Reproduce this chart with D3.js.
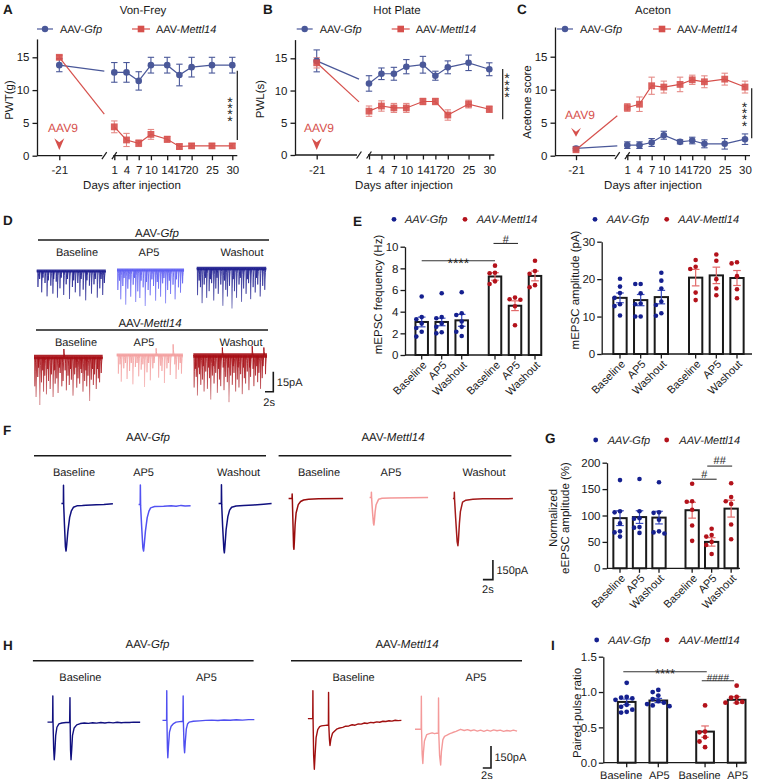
<!DOCTYPE html>
<html><head><meta charset="utf-8">
<script src="https://cdn.jsdelivr.net/npm/d3@7"></script>
<style>
body{margin:0;background:#fff}
svg{display:block}
</style></head><body>
<svg id="fig" width="760" height="781"></svg>
<script>
// ---------------- DATA ----------------
const days = [-21,1,4,7,10,14,17,20,25,30];
const vfGfp    = [13.8,12.7,12.7,11.4,13.8,13.8,12.3,13.5,13.8,13.8];
const vfGfpErr = [1.0,1.5,1.5,1.4,1.2,1.2,1.65,1.5,1.2,1.2];
const vfMet    = [15.0,4.4,2.4,1.9,3.25,2.5,1.4,1.5,1.5,1.5];
const vfMetErr = [0.3,0.9,1.0,0.5,0.75,0.45,0.4,0.35,0.35,0.35];
const hpGfp    = [14.6,11.1,12.6,12.6,13.7,14.0,12.3,13.6,14.3,13.3];
const hpGfpErr = [1.7,1.2,0.9,1.0,1.1,1.3,0.7,1.0,1.2,1.0];
const hpMet    = [14.3,6.8,7.6,7.3,7.3,8.3,8.3,6.2,7.9,7.1];
const hpMetErr = [0.8,0.8,0.8,0.7,0.7,0.5,0.5,0.8,0.6,0.5];
const acGfp    = [1.1,1.6,1.6,2.0,3.1,2.1,2.3,1.8,1.8,2.5];
const acGfpErr = [0.3,0.5,0.5,0.6,0.6,0.3,0.5,0.6,0.8,0.8];
const acMet    = [0.9,7.3,7.8,10.6,10.4,10.8,11.5,11.2,11.6,10.4];
const acMetErr = [0.2,0.6,1.1,1.3,0.9,1.1,0.7,0.9,0.9,0.9];
const lineYTicks = [0,5,10,15];

const conds3 = ['Baseline','AP5','Washout'];
const conds2 = ['Baseline','AP5'];

// E: mEPSC frequency (Hz)
const freqGfp = [3.05,3.05,3.2], freqGfpErr = [0.45,0.35,0.55];
const freqMet = [7.25,4.55,7.3], freqMetErr = [0.35,0.45,0.45];
const freqGfpPts = [[5.4,3.5,3.3,2.9,2.5,2.15,1.7],[5.7,3.5,3.4,2.9,2.6,2.1,2.0],[5.8,3.85,3.7,3.1,2.6,2.15,1.75]];
const freqMetPts = [[8.25,7.6,7.55,6.8,6.55],[5.3,5.15,5.1,4.5,2.75],[8.7,7.75,7.5,6.45,6.25]];
const freqTicks = [0,2,4,6,8,10];
// E: mEPSC amplitude (pA)
const ampGfp = [15.0,14.4,15.2], ampGfpErr = [1.3,1.5,1.8];
const ampMet = [20.4,21.0,20.3], ampMetErr = [2.2,2.2,2.0];
const ampGfpPts = [[20.1,18.0,16.3,15.0,13.3,12.8,10.3],[18.7,18.7,16.2,13.5,13.3,10.0,10.0],[21.7,19.6,17.5,14.0,13.1,10.9,10.2]];
const ampMetPts = [[25.1,23.3,22.7,16.4,14.4],[26.6,24.9,20.0,17.5,15.7],[24.5,24.2,20.8,17.3,14.9]];
const ampTicks = [0,10,20,30];
// G: normalized eEPSC amplitude (%)
const eGfp = [95,97,96], eGfpErr = [14,12,12];
const eMet = [110,50,113], eMetErr = [15,8,16];
const eGfpPts = [[167,108,106,85,70,68,60],[169,108,95,94,78,77,67],[163,106,105,92,70,68,66]];
const eMetPts = [[160,127,126,111,81,52],[75,63,60,50,44,27],[161,135,127,122,83,55]];
const eTicks = [0,50,100,150,200];
// I: paired-pulse ratio
const ppGfp = [0.86,0.88], ppGfpErr = [0.04,0.03];
const ppMet = [0.44,0.89], ppMetErr = [0.08,0.045];
const ppGfpPts = [[1.13,0.93,0.92,0.91,0.89,0.82,0.79,0.75,0.72,0.71],[1.03,1.00,0.95,0.90,0.87,0.85,0.83,0.81,0.80]];
const ppMetPts = [[0.81,0.44,0.43,0.36,0.30,0.22],[1.09,0.93,0.92,0.86,0.85,0.85]];
const ppTicks = [0,0.5,1.0,1.5];

// D: mEPSC traces, events [time (s), amplitude (pA, inward positive; negative = upward noise)]
const dGfpBase = [[0.3,12],[0.7,6],[1.2,16],[1.5,5],[2.0,9],[2.5,19],[2.8,7],[3.4,11],[3.9,17],[4.1,6],[4.7,8],[5.0,20],[5.6,13],[5.9,5],[6.5,18],[7.1,10],[7.4,6],[7.9,21],[8.6,12],[8.9,7],[9.3,16],[9.9,9],[10.4,19],[10.7,6],[11.2,14],[11.8,22],[12.1,7],[12.7,11],[13.2,17],[13.8,10],[14.1,6],[14.6,20],[15.2,13],[15.5,6],[15.9,18],[16.3,9]];
const dGfpAP5 = [[0.2,15],[0.6,8],[0.9,22],[1.4,12],[1.7,6],[2.1,26],[2.6,14],[2.9,7],[3.3,20],[3.9,11],[4.2,6],[4.5,24],[5.0,16],[5.5,21],[5.8,8],[6.3,13],[6.8,27],[7.1,9],[7.5,15],[8.0,19],[8.4,7],[8.8,12],[9.3,23],[9.7,9],[10.0,14],[10.5,20],[11.0,10],[11.3,6],[11.7,25],[12.2,15],[12.6,8],[12.9,18],[13.5,11],[14.0,22],[14.3,7],[14.8,13],[15.3,17],[15.8,10]];
const dGfpWash = [[0.2,20],[0.6,9],[0.9,14],[1.3,26],[1.8,12],[2.1,7],[2.4,22],[3.0,17],[3.3,8],[3.6,11],[4.1,24],[4.6,15],[4.9,7],[5.2,19],[5.8,12],[6.3,28],[6.7,9],[7.0,16],[7.4,21],[7.9,13],[8.5,30],[8.8,8],[9.1,17],[9.6,22],[10.2,12],[10.5,7],[10.8,25],[11.3,15],[11.9,19],[12.2,8],[12.5,11],[13.0,23],[13.6,14],[14.1,18],[14.4,7],[14.7,12],[15.3,21],[15.9,13],[16.4,16]];
const dMetBase = [[0.2,22],[0.5,30],[0.9,15],[1.1,8],[1.4,36],[1.8,19],[2.1,10],[2.3,26],[2.6,14],[3.0,28],[3.3,9],[3.5,18],[3.9,24],[4.2,13],[4.6,30],[4.9,10],[5.1,20],[5.5,16],[5.8,27],[6.1,8],[6.3,12],[6.7,22],[7.0,18],[7.2,-6],[7.5,10],[7.8,25],[8.2,14],[8.5,21],[8.8,9],[9.0,17],[9.4,29],[9.8,13],[10.1,8],[10.3,23],[10.6,16],[11.0,20],[11.3,9],[11.5,12],[11.8,26],[12.2,18],[12.5,10],[12.7,22],[13.0,14],[13.4,33],[13.8,17],[14.1,9],[14.3,21],[14.6,13],[15.0,24],[15.3,9],[15.5,16],[15.8,19],[16.2,12]];
const dMetAP5 = [[0.4,14],[0.8,7],[1.1,20],[1.7,10],[2.1,6],[2.5,18],[3.1,12],[3.5,6],[3.9,22],[4.5,9],[4.9,6],[5.3,16],[5.9,11],[6.3,7],[6.7,24],[7.3,13],[7.7,6],[8.1,19],[8.7,10],[9.0,6],[9.5,-5],[10.1,17],[10.6,8],[10.9,12],[11.5,21],[12.1,10],[12.5,6],[12.9,15],[13.6,-8],[14.0,7],[14.3,18],[14.9,11],[15.3,6],[15.6,14]];
const dMetWash = [[0.2,24],[0.5,10],[0.7,16],[1.0,30],[1.3,9],[1.5,14],[1.8,22],[2.2,18],[2.4,8],[2.6,27],[3.0,12],[3.4,25],[3.7,9],[3.9,17],[4.2,33],[4.6,15],[4.8,8],[5.0,21],[5.4,13],[5.8,28],[6.1,10],[6.3,18],[6.6,23],[7.0,-6],[7.2,9],[7.4,26],[7.8,16],[8.2,20],[8.4,9],[8.6,35],[9.0,15],[9.4,22],[9.6,8],[9.8,13],[10.2,27],[10.6,18],[10.8,9],[11.0,24],[11.4,14],[11.8,29],[12.1,9],[12.3,17],[12.6,21],[13.0,12],[13.4,26],[13.6,9],[13.8,16],[14.2,-7],[14.4,10],[14.6,23],[15.0,15],[15.3,8],[15.5,20],[15.8,13],[16.2,25],[16.6,17],[16.8,8],[17.0,-6],[17.4,14]];

// F: eEPSC traces [time (s), current (pA)]
const fGfpBase = [[0,0],[0.4,0],[0.42,140],[0.46,-10],[0.6,-150],[0.8,-330],[0.93,-363],[1.05,-320],[1.3,-210],[1.65,-105],[2.0,-55],[2.4,-28],[3.1,-17],[4.2,-15],[4.9,-12],[6,-10],[7,-8],[8.5,-6],[10.3,-2]];
const fGfpAP5 = [[0,0],[0.32,0],[0.35,150],[0.4,-10],[0.6,-160],[0.85,-330],[1.0,-355],[1.12,-310],[1.36,-205],[1.72,-100],[2.07,-50],[2.4,-25],[3.2,-15],[5,-12],[6.5,-8],[7.5,-12],[8.5,-6],[9.3,-10],[10.4,-8]];
const fGfpWash = [[0,0],[0.55,0],[0.57,145],[0.62,-10],[0.8,-170],[1.05,-350],[1.15,-377],[1.28,-320],[1.5,-200],[1.85,-100],[2.2,-50],[2.6,-28],[3.5,-18],[5,-15],[7,-10],[9,-5],[10.6,0]];
const fMetBase = [[0,0],[0.69,0],[0.71,36],[0.75,-5],[0.88,-200],[1.0,-370],[1.07,-388],[1.15,-330],[1.3,-200],[1.5,-110],[1.93,-46],[2.4,-22],[3.0,-11],[4,-5],[6,-2],[10.9,0]];
const fMetAP5 = [[0,0],[0.34,0],[0.36,41],[0.4,-5],[0.6,-120],[0.78,-200],[0.86,-210],[0.95,-180],[1.1,-110],[1.3,-55],[1.79,-14],[2.5,-6],[4,-3],[11.7,0]];
const fMetWash = [[0,0],[0.27,0],[0.29,49],[0.33,-5],[0.55,-150],[0.85,-330],[1.0,-360],[1.1,-320],[1.3,-190],[1.5,-100],[1.93,-27],[2.6,-12],[4,-5],[6,-2],[12,0]];

// H: paired-pulse traces [time (s), current (pA)]
const hGfpBase = [[0,0],[1.25,0],[1.3,179],[1.35,0],[1.5,-180],[1.65,-257],[1.8,-200],[2.0,-90],[2.3,-35],[2.78,-12],[3.5,-6],[4.5,-3],[5.4,-2],[5.48,167],[5.53,-10],[5.62,-190],[5.74,-257],[5.9,-190],[6.1,-90],[6.5,-40],[7.13,-19],[8,-10],[9,-6],[10,-9],[11,-4],[12,-7],[13,-3],[14,-6],[15,-2],[16,-5],[17,-1],[18,-4],[19,-2],[20,-3],[21,0],[22.6,-1]];
const hGfpAP5 = [[0,0],[1.0,0],[1.04,202],[1.08,0],[1.2,-190],[1.3,-255],[1.45,-180],[1.7,-80],[2.1,-40],[2.6,-24],[3.3,-12],[4.2,-8],[4.98,-6],[5.04,167],[5.09,-10],[5.25,-170],[5.39,-221],[5.55,-150],[5.8,-60],[6.1,-25],[6.5,-12],[7.5,-6],[9,-3],[10.5,0],[12,2],[13.5,-1],[15,3],[16.5,1],[18,4],[19.5,2],[21,5],[22.4,5]];
const hMetBase = [[0,0],[1.18,0],[1.22,190],[1.26,0],[1.4,-250],[1.57,-345],[1.75,-250],[2.0,-130],[2.4,-75],[2.87,-55],[3.3,-50],[3.74,-48],[4.3,-46],[5.0,-44],[5.04,179],[5.09,-40],[5.25,-140],[5.39,-183],[5.6,-140],[6.0,-100],[6.35,-90],[7.0,-72],[7.5,-66],[8.5,-60],[9.2,-52],[10,-50],[10.8,-42],[11.5,-45],[12.3,-36],[13,-38],[13.8,-30],[14.5,-33],[15.3,-26],[16,-28],[16.8,-22],[17.5,-25],[18.3,-18],[19,-20],[19.8,-15],[20.5,-17],[21.3,-11],[22,-14],[22.8,-12]];
const hMetAP5 = [[0,0],[1.5,0],[1.55,226],[1.6,-10],[1.75,-170],[1.91,-233],[2.05,-160],[2.3,-80],[2.87,-36],[3.5,-30],[4.17,-24],[4.8,-30],[5.3,-26],[5.7,-28],[5.74,214],[5.8,-30],[6.0,-180],[6.26,-243],[6.45,-150],[6.8,-70],[7.2,-48],[7.8,-40],[8.5,-30],[9.2,-22],[10,-14],[11.1,0],[12,-8],[12.8,-2],[13.6,-10],[14.4,-4],[15.2,-12],[16,-6],[16.8,-14],[17.6,-6],[18.4,-12],[19.2,-4],[20,-10],[20.8,-6],[21.6,-14],[22.4,-8],[23.2,-12],[24,-6],[24.9,-12]];

// ---------------- STYLE ----------------
const FONT = '"Liberation Sans", Arial, Helvetica, sans-serif';
const INK = '#1a1a1a';
const L_GFP = '#4a5899', L_MET = '#d6504c', L_MET_ERR = '#e58a86';
const D_GFP = '#15208f', D_MET = '#b3121b', E_GFP = '#3b4cc0', E_MET = '#e26a6a';

const svg = d3.select('#fig').attr('font-family', FONT).attr('text-rendering', 'geometricPrecision');

function text(g, x, y, s, o = {}) {
  const t = g.append('text').attr('x', x).attr('y', y)
    .attr('font-size', o.size || 11).attr('fill', o.fill || INK)
    .attr('text-anchor', o.anchor || 'start').attr('dy', o.dy == null ? '0.35em' : o.dy);
  if (o.weight) t.attr('font-weight', o.weight);
  if (o.italic) t.attr('font-style', 'italic');
  if (o.transform) t.attr('transform', o.transform);
  if (Array.isArray(s)) s.forEach(p => t.append('tspan').text(p[0]).attr('font-style', p[1] ? 'italic' : 'normal'));
  else t.text(s);
  return t;
}
const gfpParts = [['AAV-', false], ['Gfp', true]];
const metParts = [['AAV-', false], ['Mettl14', true]];

function styleAxis(sel, size) {
  sel.attr('font-family', FONT).attr('font-size', size || 11);
  sel.selectAll('path,line').attr('stroke', INK).attr('stroke-width', 1.3);
  sel.selectAll('text').attr('fill', INK);
}

// ---------------- LINE CHARTS (A,B,C) ----------------
function lineChart(o) {
  const g = svg.append('g');
  const y = d3.scaleLinear().domain([0, o.ymax]).range([o.y0, o.y0 - (o.y0 - o.y15) * o.ymax / 15]);
  const x = d3.scaleLinear().domain([-21, 1, 30]).range([o.xm21, o.x1, o.x30]);

  const ya = g.append('g').attr('transform', `translate(${o.ax},0)`)
    .call(d3.axisLeft(y).tickValues(lineYTicks).tickSize(4.5).tickSizeOuter(0).tickPadding(3));
  styleAxis(ya, 11.5);
  const xa = g.append('g').attr('transform', `translate(0,${o.y0})`)
    .call(d3.axisBottom(x).tickValues(days).tickSize(4.5).tickPadding(6).tickFormat(d => String(d)));
  xa.select('.domain').remove();
  styleAxis(xa, 11.5);
  const b1 = x(1) - 10, b2 = x(1);
  [[o.ax, b1 - 2], [b2 - 1, x(30) + 5]].forEach(s =>
    g.append('line').attr('x1', s[0]).attr('x2', s[1]).attr('y1', o.y0).attr('y2', o.y0).attr('stroke', INK).attr('stroke-width', 1.3));
  [b1, b2].forEach(bx => g.append('line').attr('x1', bx - 2.4).attr('x2', bx + 2.4)
    .attr('y1', o.y0 + 3.5).attr('y2', o.y0 - 3.5).attr('stroke', INK).attr('stroke-width', 1.2));

  const series = [
    { v: o.gfp, e: o.gfpErr, c: L_GFP, ec: L_GFP, shape: 'circle' },
    { v: o.met, e: o.metErr, c: L_MET, ec: L_MET_ERR, shape: 'square' }];
  series.forEach(s => {
    const p = days.map((d, i) => [x(d), y(s.v[i])]);
    const xc = x(1) - 10;
    const t = (xc - p[0][0]) / (p[1][0] - p[0][0]);
    g.append('line').attr('x1', p[0][0]).attr('y1', p[0][1]).attr('x2', xc).attr('y2', p[0][1] + t * (p[1][1] - p[0][1]))
      .attr('stroke', s.c).attr('stroke-width', 1.2);
    g.append('path').datum(p.slice(1)).attr('d', d3.line()).attr('fill', 'none').attr('stroke', s.c).attr('stroke-width', 1.2);
  });
  series.forEach(s => {
    days.forEach((d, i) => {
      const cx = x(d), yt = y(s.v[i] + s.e[i]), yb = y(Math.max(0, s.v[i] - s.e[i]));
      g.append('line').attr('x1', cx).attr('x2', cx).attr('y1', yt).attr('y2', yb).attr('stroke', s.ec).attr('stroke-width', 1.1);
      [yt, yb].forEach(yy => g.append('line').attr('x1', cx - 3.2).attr('x2', cx + 3.2).attr('y1', yy).attr('y2', yy).attr('stroke', s.ec).attr('stroke-width', 1.1));
    });
  });
  series.forEach(s => {
    days.forEach((d, i) => {
      const cx = x(d), cy = y(s.v[i]);
      if (s.shape === 'circle') g.append('circle').attr('cx', cx).attr('cy', cy).attr('r', 3.3).attr('fill', s.c);
      else g.append('rect').attr('x', cx - 3.4).attr('y', cy - 3.4).attr('width', 6.8).attr('height', 6.8).attr('fill', s.c).attr('fill-opacity', 0.9);
    });
  });

  // sig bar + vertically stacked stars (one text element, per-glyph positions)
  g.append('line').attr('x1', o.sigX).attr('x2', o.sigX).attr('y1', o.sigY1).attr('y2', o.sigY2).attr('stroke', INK).attr('stroke-width', 1.2);
  const ks = [-1.5, -0.5, 0.5, 1.5];
  g.append('text').attr('font-size', 14).attr('fill', INK).attr('text-anchor', 'middle')
    .attr('x', ks.map(() => o.starX).join(' '))
    .attr('y', ks.map(k => (o.starY + k * 6.4 + 8.2).toFixed(1)).join(' '))
    .text('****');

  // AAV9
  text(g, o.aavX, o.aavY, 'AAV9', { size: 12, anchor: 'middle', fill: L_MET, dy: 0 });
  const ax = x(-21), at = o.arrTop, ab = o.arrBot;
  g.append('path').attr('d', `M${ax - 5},${at} L${ax},${at + 4} L${ax + 5},${at} L${ax},${ab} Z`).attr('fill', L_MET);

  // titles / labels
  text(g, o.letterX, 9, o.letter, { size: 13.5, weight: 'bold' });
  text(g, o.titleX, 10, o.title, { size: 11.5, anchor: 'middle' });
  text(g, o.ylabX, o.ylabY, o.ylab, { size: 11.5, anchor: 'middle', transform: `rotate(-90 ${o.ylabX} ${o.ylabY})` });
  text(g, o.xlabX, 185, 'Days after injection', { size: 11.5, anchor: 'middle' });

  // legend
  const ly = 29;
  g.append('line').attr('x1', o.lg1).attr('x2', o.lg1 + 16).attr('y1', ly).attr('y2', ly).attr('stroke', L_GFP).attr('stroke-width', 1.2);
  g.append('circle').attr('cx', o.lg1 + 8).attr('cy', ly).attr('r', 3.2).attr('fill', L_GFP);
  text(g, o.lg1 + 23, ly, gfpParts, { size: 11 });
  g.append('line').attr('x1', o.lg2).attr('x2', o.lg2 + 18).attr('y1', ly).attr('y2', ly).attr('stroke', L_MET).attr('stroke-width', 1.2);
  g.append('rect').attr('x', o.lg2 + 9 - 3.3).attr('y', ly - 3.3).attr('width', 6.6).attr('height', 6.6).attr('fill', L_MET);
  text(g, o.lg2 + 24, ly, metParts, { size: 11 });
}

lineChart({ letter: 'A', letterX: 3, title: 'Von-Frey', titleX: 143, ylab: 'PWT(g)', ylabX: 9, ylabY: 100, xlabX: 132,
  ax: 37, y0: 155.7, y15: 57.3, ymax: 17.8, xm21: 59.3, x1: 114.3, x30: 232.3,
  gfp: vfGfp, gfpErr: vfGfpErr, met: vfMet, metErr: vfMetErr,
  sigX: 237.3, sigY1: 70.7, sigY2: 140, starX: 230, starY: 108,
  aavX: 63, aavY: 131.7, arrTop: 138.3, arrBot: 150, lg1: 37, lg2: 132 });
lineChart({ letter: 'B', letterX: 263, title: 'Hot Plate', titleX: 397, ylab: 'PWL(s)', ylabX: 260, ylabY: 99, xlabX: 404,
  ax: 295, y0: 155, y15: 58.3, ymax: 17.9, xm21: 316.7, x1: 369, x30: 489.3,
  gfp: hpGfp, gfpErr: hpGfpErr, met: hpMet, metErr: hpMetErr,
  sigX: 502.7, sigY1: 69, sigY2: 119.3, starX: 507, starY: 84.5,
  aavX: 319, aavY: 131.7, arrTop: 138.3, arrBot: 150, lg1: 296.7, lg2: 391.7 });
lineChart({ letter: 'C', letterX: 517, title: 'Aceton', titleX: 653, ylab: 'Acetone score', ylabX: 527, ylabY: 102, xlabX: 653,
  ax: 555, y0: 155.7, y15: 56.7, ymax: 19.5, xm21: 576, x1: 627.3, x30: 745,
  gfp: acGfp, gfpErr: acGfpErr, met: acMet, metErr: acMetErr,
  sigX: 751.7, sigY1: 88.3, sigY2: 138.3, starX: 744.5, starY: 113,
  aavX: 580, aavY: 119.3, arrTop: 127.7, arrBot: 136.7, lg1: 557, lg2: 653 });

// ---------------- TRACES ----------------
const defs = svg.append('defs');
let gradN = 0;
function drawTrace(g, pts, o) {
  const xs = d3.scaleLinear().domain([0, 1]).range([o.x0, o.x0 + o.sx]);
  const ys = d3.scaleLinear().domain([0, 1]).range([o.yb, o.yb - o.sy]);
  let stroke = o.color;
  if (o.fade) {
    const id = 'gr' + (gradN++);
    const lg = defs.append('linearGradient').attr('id', id).attr('gradientUnits', 'userSpaceOnUse')
      .attr('x1', 0).attr('x2', 0).attr('y1', o.yb).attr('y2', o.yb + o.fade);
    lg.append('stop').attr('offset', 0).attr('stop-color', o.color).attr('stop-opacity', 1);
    lg.append('stop').attr('offset', 1).attr('stop-color', o.color).attr('stop-opacity', 0.3);
    stroke = `url(#${id})`;
  }
  g.append('path').datum(pts).attr('d', d3.line().x(d => xs(d[0])).y(d => ys(d[1])))
    .attr('fill', 'none').attr('stroke', stroke).attr('stroke-width', o.w || 1.3).attr('stroke-linejoin', 'round');
}
function spikePts(events) {
  const p = [[0, 0]];
  events.forEach(([t, a]) => p.push([t - 0.04, 0], [t, -a], [t + 0.06, -a * 0.5], [t + 0.15, -a * 0.18], [t + 0.25, 0]));
  const last = events[events.length - 1][0] + 0.35;
  p.push([last, 0]);
  return p;
}
function header(g, cx, y, parts, x1, x2, ly) {
  text(g, cx, y, parts, { size: 11.5, anchor: 'middle' });
  g.append('line').attr('x1', x1).attr('x2', x2).attr('y1', ly).attr('y2', ly).attr('stroke', INK).attr('stroke-width', 1.6);
}
function scaleBar(g, x, y, hLen, vLen, lblV, lblH, hdy) {
  g.append('path').attr('d', `M${x},${y - vLen} L${x},${y} L${x - hLen},${y}`).attr('fill', 'none').attr('stroke', INK).attr('stroke-width', 1.6);
  text(g, x + 3.5, y - vLen / 2, lblV, { size: 11 });
  text(g, x - hLen / 2, y + (hdy || 10), lblH, { size: 11, anchor: 'middle' });
}

// D
{
  const g = svg.append('g');
  text(g, 3, 220, 'D', { size: 13.5, weight: 'bold' });
  header(g, 157, 233, gfpParts, 38, 269, 240);
  header(g, 150, 323, metParts, 36, 268, 330);
  [['Baseline', 77], ['AP5', 149], ['Washout', 242]].forEach(d => text(g, d[1], 252, d[0], { anchor: 'middle' }));
  [['Baseline', 76], ['AP5', 144], ['Washout', 241]].forEach(d => text(g, d[1], 342, d[0], { anchor: 'middle' }));
  const sx = 8.3 / 2, sy = 20 / 15;
  const tr = [
    [dGfpBase, 36.7, 271, '#1d1d8e', 3.2], [dGfpAP5, 117, 270, '#5d5df2', 3.2], [dGfpWash, 196.7, 268.5, '#1d1d8e', 3.4],
    [dMetBase, 34, 357, '#a60d14', 4.5], [dMetAP5, 116.7, 355, '#f3a0a0', 3], [dMetWash, 193.3, 355.5, '#a60d14', 4.5]];
  tr.forEach(t => {
    const pts = spikePts(t[0]);
    const end = pts[pts.length - 1][0];
    g.append('line').attr('x1', t[1]).attr('x2', t[1] + end * sx).attr('y1', t[2]).attr('y2', t[2])
      .attr('stroke', t[3]).attr('stroke-width', t[4]).attr('stroke-opacity', 0.9);
    drawTrace(g, pts, { x0: t[1], yb: t[2], sx, sy, color: t[3], w: 0.9, fade: 42 });
  });
  scaleBar(g, 273.3, 391.7, 2 * sx, 15 * sy, '15pA', '2s');
}

// F
{
  const g = svg.append('g');
  text(g, 3, 430, 'F', { size: 13.5, weight: 'bold' });
  header(g, 148, 437, gfpParts, 34, 266, 455.7);
  header(g, 393, 437, metParts, 278.6, 511.4, 455.7);
  [['Baseline', 74], ['AP5', 143.6], ['Washout', 238.6], ['Baseline', 319], ['AP5', 391], ['Washout', 484]]
    .forEach(d => text(g, d[1], 472, d[0], { anchor: 'middle' }));
  const sx = 5, sy = 19.6 / 150;
  [[fGfpBase, 61.4, 503.6, '#10107f'], [fGfpAP5, 138.6, 504.6, '#5252f2'], [fGfpWash, 218.6, 503.6, '#10107f'],
   [fMetBase, 288.6, 498.6, '#990c0c'], [fMetAP5, 369.6, 497.5, '#f49898'], [fMetWash, 452.9, 498.6, '#a31a1a']]
    .forEach(t => drawTrace(g, t[0], { x0: t[1], yb: t[2], sx, sy, color: t[3], w: 1.5 }));
  scaleBar(g, 492.9, 579.6, 2 * sx, 150 * sy, '150pA', '2s');
}

// H
{
  const g = svg.append('g');
  text(g, 3, 645, 'H', { size: 13.5, weight: 'bold' });
  header(g, 147.5, 643.6, gfpParts, 32.9, 253.6, 660.7);
  header(g, 407, 643.6, metParts, 291, 522, 660.7);
  [['Baseline', 80.4], ['AP5', 206.4], ['Baseline', 353.6], ['AP5', 476]]
    .forEach(d => text(g, d[1], 677, d[0], { anchor: 'middle' }));
  const sx = 8.2 / 2, sy = 22 / 150;
  [[hGfpBase, 47.5, 722.1, '#10107f'], [hGfpAP5, 162.5, 720.4, '#4f4ff0'],
   [hMetBase, 307.9, 718.6, '#a00f0f'], [hMetAP5, 415, 729.3, '#f49a9a']]
    .forEach(t => drawTrace(g, t[0], { x0: t[1], yb: t[2], sx, sy, color: t[3], w: 1.4 }));
  scaleBar(g, 491, 768, 2 * sx, 150 * sy, '150pA', '2s', 7.5);
}

// ---------------- BAR CHARTS (E,G,I) ----------------
function beeswarm(vals, y, cx, r) {
  const placed = [];
  const d = 2 * r + 0.8;
  return vals.map(v => {
    const cy = y(v);
    const offs = [0, -d, d, -2 * d, 2 * d, -3 * d, 3 * d];
    let ox = 0;
    for (const o of offs) {
      if (placed.every(p => Math.hypot(p[0] - (cx + o), p[1] - cy) >= 2 * r + 0.4)) { ox = o; break; }
    }
    placed.push([cx + ox, cy]);
    return [cx + ox, cy];
  });
}
function barChart(o) {
  const g = svg.append('g');
  const y = d3.scaleLinear().domain([0, o.ymax]).range([o.y0, o.yTop]);
  const x = d3.scaleLinear().domain([0, 1]).range([o.c0, o.c0 + o.step]);
  const n = o.labels.length;
  const slot = (gi, i) => gi === 0 ? i : n - 1 + o.gap + i;
  const groups = [
    { m: o.gm, e: o.ge, p: o.gp, c: D_GFP, ec: E_GFP },
    { m: o.mm, e: o.me, p: o.mp, c: D_MET, ec: E_MET }];
  const items = [];
  groups.forEach((gr, gi) => gr.m.forEach((m, i) =>
    items.push({ m, e: gr.e[i], p: gr.p[i], c: gr.c, ec: gr.ec, cx: x(slot(gi, i)), lab: o.labels[i], li: i })));

  g.selectAll('rect.bar').data(items).join('rect').attr('class', 'bar')
    .attr('x', d => d.cx - o.bw / 2).attr('y', d => y(d.m)).attr('width', o.bw).attr('height', d => o.y0 - y(d.m))
    .attr('fill', '#fff').attr('stroke', INK).attr('stroke-width', 2);
  items.forEach(d => {
    const yt = y(d.m + d.e), yb = y(d.m - d.e);
    g.append('line').attr('x1', d.cx).attr('x2', d.cx).attr('y1', yt).attr('y2', yb).attr('stroke', d.ec).attr('stroke-width', 1.2);
    [yt, yb].forEach(yy => g.append('line').attr('x1', d.cx - 3.8).attr('x2', d.cx + 3.8).attr('y1', yy).attr('y2', yy).attr('stroke', d.ec).attr('stroke-width', 1.2));
  });
  items.forEach(d => {
    beeswarm(d.p, y, d.cx, o.r).forEach(pt =>
      g.append('circle').attr('cx', pt[0]).attr('cy', pt[1]).attr('r', o.r).attr('fill', d.c));
  });
  const ya = g.append('g').attr('transform', `translate(${o.ax},0)`)
    .call(d3.axisLeft(y).tickValues(o.ticks).tickFormat(o.fmt || (d => String(d))).tickSize(4.5).tickSizeOuter(0).tickPadding(2));
  styleAxis(ya, 11.5);
  g.append('line').attr('x1', o.ax).attr('x2', o.axEnd).attr('y1', o.y0).attr('y2', o.y0).attr('stroke', INK).attr('stroke-width', 1.3);
  items.forEach(d => {
    g.append('line').attr('x1', d.cx).attr('x2', d.cx).attr('y1', o.y0).attr('y2', o.y0 + 4.5).attr('stroke', INK).attr('stroke-width', 1.3);
    if (o.rot) text(g, 0, 0, d.lab, { size: 11, anchor: 'end', transform: `translate(${d.cx + 3},${o.y0 + 8}) rotate(-45)` });
    else text(g, d.cx + (o.labDx ? o.labDx[d.li] : 0), o.y0 + 12, d.lab, { size: 11, anchor: 'middle' });
  });
  o.sig.forEach(s => {
    const xa = x(slot(s.a[0], s.a[1])) + (s.dx1 || 0), xb = x(slot(s.b[0], s.b[1])) + (s.dx2 || 0), yy = y(s.v);
    g.append('line').attr('x1', xa).attr('x2', xb).attr('y1', yy).attr('y2', yy).attr('stroke', '#333').attr('stroke-width', 1.1);
    text(g, (xa + xb) / 2, yy + s.ty, s.t, { size: s.size, anchor: 'middle', dy: 0 });
  });
  o.ylab.forEach(l => text(g, l[1], o.ylabY, l[0], { size: 11.5, anchor: 'middle', transform: `rotate(-90 ${l[1]} ${o.ylabY})` }));
  g.append('circle').attr('cx', o.lgx[0]).attr('cy', o.lgy).attr('r', 2.4).attr('fill', D_GFP);
  text(g, o.lgx[1], o.lgy, 'AAV-Gfp', { size: 11, italic: true });
  g.append('circle').attr('cx', o.lgx[2]).attr('cy', o.lgy).attr('r', 2.4).attr('fill', D_MET);
  text(g, o.lgx[3], o.lgy, 'AAV-Mettl14', { size: 11, italic: true });
  if (o.letter) text(g, o.letter[1], o.letter[2], o.letter[0], { size: 13.5, weight: 'bold' });
}

barChart({ letter: ['E', 353, 221], labels: conds3, rot: true,
  ymax: 10, y0: 355, yTop: 246.7, ax: 405, axEnd: 537, c0: 421.7, step: 20, gap: 1.665, bw: 12.5, r: 2.3,
  gm: freqGfp, ge: freqGfpErr, gp: freqGfpPts, mm: freqMet, me: freqMetErr, mp: freqMetPts, ticks: freqTicks,
  sig: [{ a: [0, 0], b: [1, 0], v: 8.7, t: '****', size: 14, ty: 7.5 },
        { a: [1, 0], b: [1, 1], v: 10.3, t: '#', size: 11, ty: -0.8, dx1: -1.5, dx2: 3 }],
  ylab: [['mEPSC frequency (Hz)', 378.3]], ylabY: 294.5, lgy: 219.3, lgx: [394, 405, 465, 476.7] });
barChart({ labels: conds3, rot: true,
  ymax: 30, y0: 354, yTop: 241.7, ax: 601.7, axEnd: 752, c0: 620, step: 20.67, gap: 1.66, bw: 13.3, r: 2.3,
  gm: ampGfp, ge: ampGfpErr, gp: ampGfpPts, mm: ampMet, me: ampMetErr, mp: ampMetPts, ticks: ampTicks,
  sig: [], ylab: [['mEPSC amplitude (pA)', 575]], ylabY: 290, lgy: 219.3, lgx: [595, 606.7, 666.7, 678.3] });
barChart({ letter: ['G', 545, 438.3], labels: conds3, rot: true,
  ymax: 200, y0: 568.3, yTop: 462.7, ax: 607, axEnd: 740, c0: 620, step: 19.5, gap: 1.7, bw: 13.3, r: 2.3,
  gm: eGfp, ge: eGfpErr, gp: eGfpPts, mm: eMet, me: eMetErr, mp: eMetPts, ticks: eTicks,
  sig: [{ a: [1, 0], b: [1, 1], v: 168.7, t: '#', size: 11, ty: -1.6, dx1: 0, dx2: 5 },
        { a: [1, 1], b: [1, 2], v: 193.6, t: '##', size: 11, ty: -2.3, dx1: -4.4, dx2: 1 }],
  ylab: [['Normalized', 553], ['eEPSC amplitude (%)', 565]], ylabY: 518, lgy: 440, lgx: [595.7, 607.7, 666.7, 679.3] });
barChart({ letter: ['I', 551, 645], labels: conds2, rot: false, labDx: [-5.5, 1],
  ymax: 1.5, y0: 762.7, yTop: 656.7, ax: 603.3, axEnd: 746.7, c0: 626.7, step: 31.6, gap: 1.48, bw: 17.7, r: 2.4,
  gm: ppGfp, ge: ppGfpErr, gp: ppGfpPts, mm: ppMet, me: ppMetErr, mp: ppMetPts, ticks: ppTicks, fmt: d3.format('.1f'),
  sig: [{ a: [0, 0], b: [1, 0], v: 1.288, t: '****', size: 13, ty: 6.5, dx1: -3.4, dx2: 1.7 },
        { a: [1, 0], b: [1, 1], v: 1.16, t: '####', size: 10, ty: 0, dx1: -3.3, dx2: -2.7 }],
  ylab: [['Paired-pulse ratio', 576.7]], ylabY: 713, lgy: 640, lgx: [596.7, 608.3, 667, 679] });
</script>
</body></html>
